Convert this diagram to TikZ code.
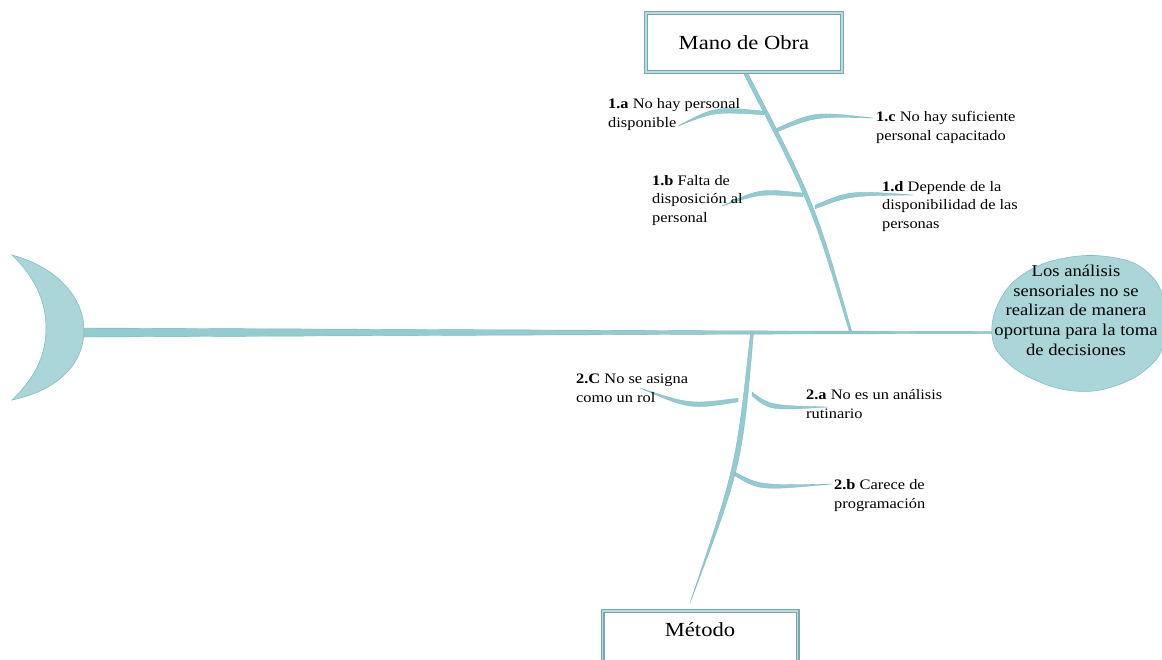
\documentclass[tikz,border=0pt]{standalone}
\usepackage{fontspec}
\setmainfont{Liberation Serif}[FakeStretch=1.13]
\usetikzlibrary{calc}
\definecolor{bonefill}{RGB}{146,203,208}
\definecolor{boneedge}{RGB}{118,182,188}
\definecolor{headfill}{RGB}{170,214,217}
\definecolor{headedge}{RGB}{130,190,195}
\definecolor{boxouter}{RGB}{120,168,174}
\definecolor{boxinner}{RGB}{182,222,225}
\newcommand\subbone[3]{%
  \fill[bonefill, draw=boneedge, line width=0.3pt]
    ($(#1)+(0,-1.8)$) .. controls ($(#2)+(0,-2.6)$) .. (#3)
    .. controls ($(#2)+(0,2.6)$) .. ($(#1)+(0,1.8)$) -- cycle;}
\begin{document}
\begin{tikzpicture}[x=1pt,y=-1pt,
  lbl/.style={anchor=base west, inner sep=0pt, align=left,
    font=\fontsize{14.5}{18.5}\selectfont},
  catbox/.style={draw=boxouter, line width=4pt, fill=white,
    postaction={draw=boxinner, line width=1.8pt},
    font=\fontsize{20}{24}\selectfont, inner sep=0pt},
  headtxt/.style={align=center, inner sep=0pt, anchor=base,
    font=\fontsize{16.5}{19.6}\selectfont}]
\useasboundingbox (0,0) rectangle (1162,659);

% tail (crescent)
\fill[headfill, draw=headedge, line width=0.6pt]
  (12,255) .. controls (60,268) and (84,300) .. (84,330)
  .. controls (84,362) and (60,390) .. (12,400)
  .. controls (38,375) and (46,352) .. (46,328)
  .. controls (46,305) and (38,280) .. (12,255) -- cycle;

% spine
\coordinate (tail) at (84,332.5);
\coordinate (mid) at (750,332.5);
\coordinate (headpt) at (995,332.5);
\fill[bonefill, draw=boneedge, line width=0.4pt]
  ($(tail)+(0,-4.5)$) -- ($(mid)+(0,-1.6)$) -- ($(headpt)+(0,-1)$)
  -- ($(headpt)+(0,1)$) -- ($(mid)+(0,1.6)$) -- ($(tail)+(0,4.5)$) -- cycle;

% head
\fill[headfill, draw=headedge, line width=0.6pt] plot[smooth cycle, tension=0.7] coordinates {
  (992,335) (1000,300) (1025,273) (1065,258) (1110,257) (1145,270)
  (1164,300) (1164,340) (1150,366) (1115,386) (1075,391) (1035,380) (1005,360)};
\node[headtxt] (efecto) at (1076,355) {Los análisis\\sensoriales no se\\realizan de manera\\oportuna para la toma\\de decisiones};

% category boxes
\node[catbox, minimum width=196pt, minimum height=59pt] (mano) at (744,42.5) {Mano de Obra};
\node[catbox, minimum width=195pt, minimum height=60pt, anchor=north] (metodo) at (700,609) {};
\node[inner sep=0pt, anchor=base, font=\fontsize{20}{24}\selectfont] (metodotxt) at (700,636) {Método};

% main bones
\coordinate (topA) at (746,74);
\coordinate (topE) at (851,333);
\fill[bonefill, draw=boneedge, line width=0.3pt]
  ($(topA)+(-2.2,0)$) .. controls (811,204) .. ($(topE)+(-1.2,0)$)
  -- ($(topE)+(1.2,0)$) .. controls (815.5,204) .. ($(topA)+(2.2,0)$) -- cycle;
\coordinate (botA) at (752,333);
\coordinate (botE) at (690,603);
\fill[bonefill, draw=boneedge, line width=0.3pt]
  ($(botA)+(-1.5,0)$) .. controls (736,466) .. (botE)
  .. controls (742,466) .. ($(botA)+(1.5,0)$) -- cycle;

% sub-bones
\coordinate (b1a) at (764,113); \coordinate (t1a) at (678,126);
\coordinate (b1c) at (777,130); \coordinate (t1c) at (873,118);
\coordinate (b1b) at (803,195); \coordinate (t1b) at (722,206);
\coordinate (b1d) at (815,207); \coordinate (t1d) at (913,195);
\coordinate (b2c) at (738,400); \coordinate (t2c) at (640,388);
\coordinate (b2a) at (752,394); \coordinate (t2a) at (828,407);
\coordinate (b2b) at (735,474); \coordinate (t2b) at (832,484);
\subbone{b1a}{715,109}{t1a}
\subbone{b1c}{815,114}{t1c}
\subbone{b1b}{760,191}{t1b}
\subbone{b1d}{850,193}{t1d}
\subbone{b2c}{690,407}{t2c}
\subbone{b2a}{770,408}{t2a}
\subbone{b2b}{760,488}{t2b}

% labels
\node[lbl] (l1a) at (608,127) {\textbf{1.a} No hay personal\\disponible};
\node[lbl] (l1c) at (876,140) {\textbf{1.c} No hay suficiente\\personal capacitado};
\node[lbl] (l1b) at (652,222) {\textbf{1.b} Falta de\\disposición al\\personal};
\node[lbl] (l1d) at (882,228) {\textbf{1.d} Depende de la\\disponibilidad de las\\personas};
\node[lbl] (l2c) at (576,402) {\textbf{2.C} No se asigna\\como un rol};
\node[lbl] (l2a) at (806,418) {\textbf{2.a} No es un análisis\\rutinario};
\node[lbl] (l2b) at (834,508) {\textbf{2.b} Carece de\\programación};
\end{tikzpicture}
\end{document}
